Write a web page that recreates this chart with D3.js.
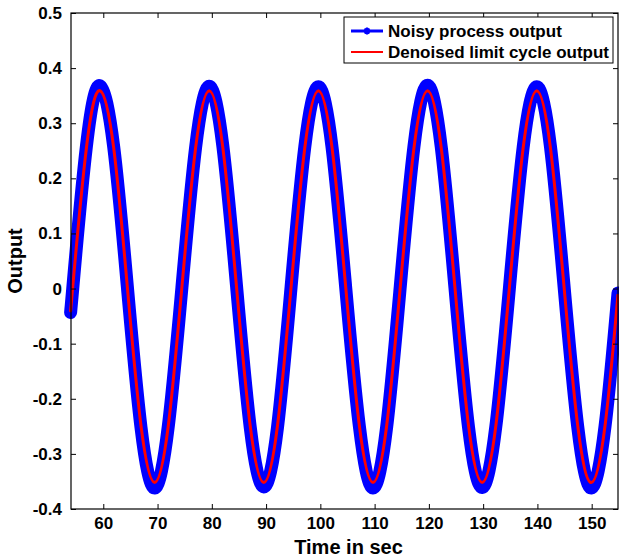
<!DOCTYPE html>
<html>
<head>
<meta charset="utf-8">
<script src="https://cdn.jsdelivr.net/npm/d3@7"></script>
<style>
  html, body { margin: 0; padding: 0; background: #fff; }
  svg { display: block; }
  text { font-family: "Liberation Sans", Arial, Helvetica, sans-serif; font-weight: bold; fill: #000; }
</style>
</head>
<body>
<svg id="chart" width="619" height="558"></svg>
<script>
// Time samples (s)
const times = [54.05, 54.37, 56.89, 59.40, 61.92, 64.43, 66.95, 69.46, 71.98, 74.49,
  77.01, 79.52, 82.04, 84.55, 87.07, 89.58, 92.10, 94.61, 97.13, 99.64,
  102.16, 104.67, 107.19, 109.70, 112.22, 114.73, 117.25, 119.76, 122.28, 124.79,
  127.31, 129.82, 132.34, 134.85, 137.37, 139.88, 142.40, 144.91, 147.43, 149.94,
  152.46, 154.85];
// Noisy process output
const noisyValues = [-0.035, 0.000, 0.258, 0.368, 0.257, 0.004, -0.252, -0.362, -0.250, 0.002,
  0.256, 0.367, 0.258, 0.005, -0.251, -0.360, -0.252, 0.003, 0.257, 0.366,
  0.256, 0.002, -0.250, -0.362, -0.251, 0.004, 0.258, 0.369, 0.257, 0.003,
  -0.252, -0.361, -0.250, 0.002, 0.256, 0.366, 0.258, 0.004, -0.251, -0.362,
  -0.250, -0.008];
// Denoised limit cycle output
const denoisedValues = [-0.033, 0.003, 0.255, 0.359, 0.255, 0.003, -0.249, -0.352, -0.249, 0.003,
  0.255, 0.359, 0.255, 0.003, -0.249, -0.352, -0.249, 0.003, 0.255, 0.359,
  0.255, 0.003, -0.249, -0.352, -0.249, 0.003, 0.255, 0.359, 0.255, 0.003,
  -0.249, -0.352, -0.249, 0.003, 0.255, 0.359, 0.255, 0.003, -0.249, -0.352,
  -0.249, -0.010];
const xTicks = [60, 70, 80, 90, 100, 110, 120, 130, 140, 150];
const yTicks = [-0.4, -0.3, -0.2, -0.1, 0, 0.1, 0.2, 0.3, 0.4, 0.5];
const yTickLabels = ["-0.4", "-0.3", "-0.2", "-0.1", "0", "0.1", "0.2", "0.3", "0.4", "0.5"];
const seriesNames = ["Noisy process output", "Denoised limit cycle output"];
const seriesColors = ["#0000ff", "#ff0000"];

(function () {
const svg = d3.select("#chart");
const L = 71, R = 618, T = 13, B = 509;
const x = d3.scaleLinear().domain([54.05, 154.85]).range([L, R]);
const y = d3.scaleLinear().domain([-0.4, 0.5]).range([B, T]);

const noisy = times.map((t, i) => [t, noisyValues[i]]);
const denoised = times.map((t, i) => [t, denoisedValues[i]]);
const line = d3.line().x(d => x(d[0])).y(d => y(d[1])).curve(d3.curveNatural);

// data
svg.append("path").datum(noisy).attr("d", line)
  .attr("fill", "none").attr("stroke", seriesColors[0]).attr("stroke-width", 13)
  .attr("stroke-linejoin", "round").attr("stroke-linecap", "round");
svg.append("path").datum(denoised).attr("d", line)
  .attr("fill", "none").attr("stroke", seriesColors[1]).attr("stroke-width", 3);

// axes (ticks inward, box)
const tl = 5;
const gBottom = svg.append("g").attr("transform", `translate(0,${B})`)
  .call(d3.axisBottom(x).tickValues(xTicks).tickSize(-tl).tickPadding(8).tickFormat(d3.format("d")));
const gTop = svg.append("g").attr("transform", `translate(0,${T})`)
  .call(d3.axisTop(x).tickValues(xTicks).tickSize(-tl).tickFormat(""));
const gLeft = svg.append("g").attr("transform", `translate(${L},0)`)
  .call(d3.axisLeft(y).tickValues(yTicks).tickSize(-tl).tickPadding(9).tickFormat((d, i) => yTickLabels[i]));
const gRight = svg.append("g").attr("transform", `translate(${R},0)`)
  .call(d3.axisRight(y).tickValues(yTicks).tickSize(-tl).tickFormat(""));
[gBottom, gTop, gLeft, gRight].forEach(g => {
  g.select(".domain").remove();
  g.selectAll(".tick line").attr("stroke", "#000").attr("stroke-width", 1);
  g.selectAll(".tick text").style("font-size", "17px").style("font-weight", "bold")
    .style("font-family", '"Liberation Sans", Arial, sans-serif').attr("fill", "#000");
});
svg.append("rect").attr("x", L).attr("y", T).attr("width", R - L).attr("height", B - T)
  .attr("fill", "none").attr("stroke", "#000").attr("stroke-width", 1.2);

// axis labels
svg.append("text").attr("x", (L + R) / 2 + 4).attr("y", 554).attr("text-anchor", "middle")
  .style("font-size", "20px").text("Time in sec");
svg.append("text").attr("transform", `translate(22,${(T + B) / 2}) rotate(-90)`)
  .attr("text-anchor", "middle").style("font-size", "20px").text("Output");

// legend
const lg = svg.append("g");
lg.append("rect").attr("x", 344).attr("y", 17).attr("width", 269).attr("height", 46)
  .attr("fill", "#fff").attr("stroke", "#000").attr("stroke-width", 1);
const rows = [31, 52];
seriesNames.forEach((name, i) => {
  lg.append("line").attr("x1", 351).attr("x2", 383).attr("y1", rows[i]).attr("y2", rows[i])
    .attr("stroke", seriesColors[i]).attr("stroke-width", i === 0 ? 3 : 2);
  lg.append("text").attr("x", 388).attr("y", rows[i] + 6).style("font-size", "17px").text(name);
});
// star marker on the noisy legend entry
const mx = 367, my = rows[0], ms = 3.5;
const starPath = `M${mx - ms},${my}L${mx + ms},${my}M${mx},${my - ms}L${mx},${my + ms}` +
  `M${mx - ms * 0.7},${my - ms * 0.7}L${mx + ms * 0.7},${my + ms * 0.7}` +
  `M${mx - ms * 0.7},${my + ms * 0.7}L${mx + ms * 0.7},${my - ms * 0.7}`;
lg.append("path").attr("d", starPath).attr("stroke", seriesColors[0]).attr("stroke-width", 2);
})();
</script>
</body>
</html>
